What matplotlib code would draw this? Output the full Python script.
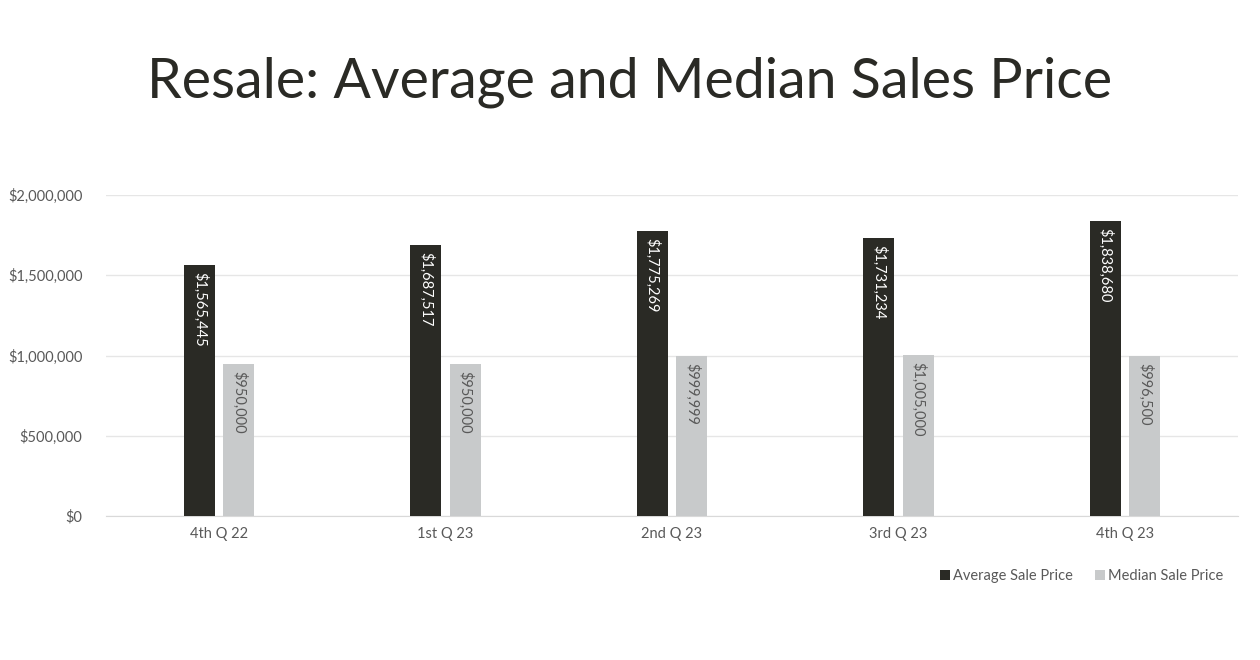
import numpy as np
import matplotlib
matplotlib.use("Agg")
import matplotlib.pyplot as plt
from matplotlib.ticker import FuncFormatter

quarters = ["4th Q 22", "1st Q 23", "2nd Q 23", "3rd Q 23", "4th Q 23"]
avg_price = [1565445, 1687517, 1775269, 1731234, 1838680]
median_price = [950000, 950000, 999999, 1005000, 996500]

DARK = "#2a2a25"
LIGHT = "#c8cacb"
TXT = "#595959"

plt.rcParams["font.family"] = ["Lato", "DejaVu Sans"]

fig = plt.figure(figsize=(12.6, 6.6), dpi=100)
ax = fig.add_axes([106 / 1260, 1 - 516 / 660, 1132 / 1260, 321 / 660])

x = np.arange(len(quarters))
w = 0.137
off = 0.087
b1 = ax.bar(x - off, avg_price, w, color=DARK, label="Average Sale Price", zorder=3)
b2 = ax.bar(x + off, median_price, w, color=LIGHT, label="Median Sale Price", zorder=3)

# value labels, rotated to read top-down, placed inside the bar top
for rect, v in zip(b1, avg_price):
    ax.text(rect.get_x() + rect.get_width() / 2, v - 45000, f"${v:,}",
            rotation=270, ha="center", va="top", color="white", fontsize=10.5,
            zorder=4)
for rect, v in zip(b2, median_price):
    ax.text(rect.get_x() + rect.get_width() / 2, v - 45000, f"${v:,}",
            rotation=270, ha="center", va="top", color=TXT, fontsize=10.5,
            zorder=4)

ax.set_xlim(-0.5, len(quarters) - 0.5)
ax.set_ylim(0, 2000000)
ax.set_yticks([0, 500000, 1000000, 1500000, 2000000])
ax.yaxis.set_major_formatter(FuncFormatter(lambda v, p: f"${int(v):,}"))
ax.set_xticks(x)
ax.set_xticklabels(quarters)
ax.tick_params(axis="both", length=0, colors=TXT, labelsize=10.5)
ax.tick_params(axis="y", pad=17)
ax.tick_params(axis="x", pad=8)
ax.grid(axis="y", color="#e6e6e6", lw=1, zorder=0)
for s in ["top", "right", "left"]:
    ax.spines[s].set_visible(False)
ax.spines["bottom"].set_color("#d9d9d9")

fig.text(0.5, 1 - 82 / 660, "Resale: Average and Median Sales Price",
         ha="center", va="center", fontsize=40, color=DARK)

fig.legend(handles=[b1, b2], loc="center right", bbox_to_anchor=(1236 / 1260, 1 - 576 / 660),
           ncol=2, frameon=False, handlelength=0.7, handleheight=0.7,
           handletextpad=0.2, columnspacing=1.5, labelcolor=TXT,
           prop={"size": 10.5})

fig.savefig("out.png", dpi=100, facecolor="white")
